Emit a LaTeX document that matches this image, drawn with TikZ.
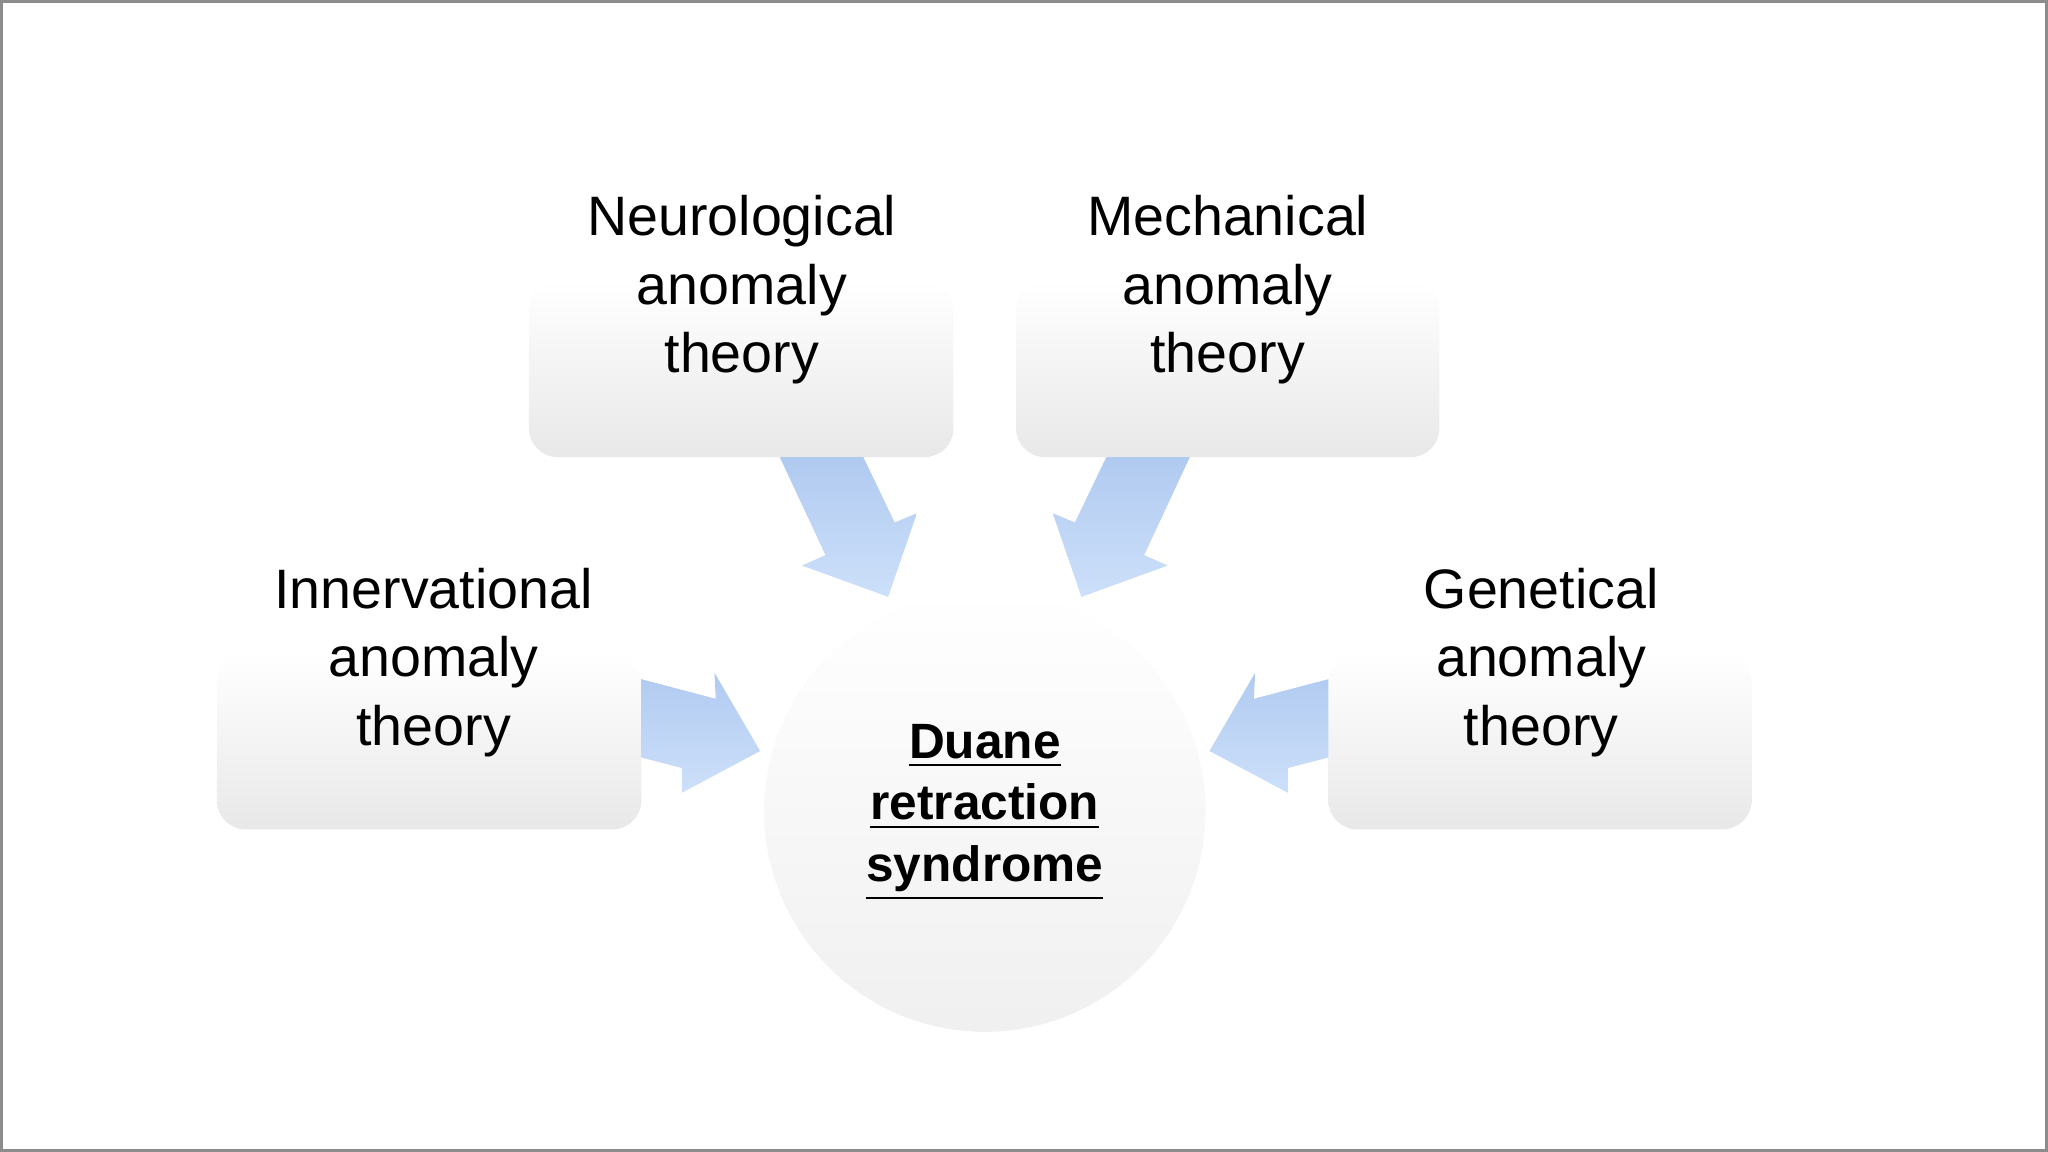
\documentclass[tikz,border=0pt]{standalone}
\usepackage{fontspec}
\setmainfont{Liberation Sans}
\definecolor{arA}{RGB}{176,202,240}
\definecolor{arB}{RGB}{205,224,250}
\begin{document}
\begin{tikzpicture}[x=0.01cm,y=-0.01cm,
  box/.style={rounded corners=0.22cm,top color=white,bottom color=black!9,draw=none},
  lbl/.style={align=center,font=\fontsize{12.1}{14.9}\selectfont,text=black},
  arr/.style={draw=none,top color=arA,bottom color=arB}]
\useasboundingbox (0,0) rectangle (1568,882);
\draw[black!45,line width=0.6pt] (1,1) rectangle (1567,881);
% boxes
\shade[box] (405,215) rectangle (730,350);
\shade[box] (778,215) rectangle (1102,350);
\shade[box] (166,500) rectangle (491,635);
\shade[box] (1017,500) rectangle (1341,635);
% circle
\shade[top color=white,bottom color=black!6,middle color=white!97!black] (754,621) circle (169);
% arrows
\shade[arr] (597,350)--(661,350)--(685,400)--(702,393)--(680,457)--(614,433)--(632,425)--cycle;
\shade[arr] (911,350)--(847,350)--(823,400)--(806,393)--(828,457)--(894,433)--(876,425)--cycle;
\shade[arr] (491,520)--(548,535)--(547,515)--(582,575)--(522,607)--(522,588)--(491,580)--cycle;
\shade[arr] (1017,520)--(960,535)--(961,515)--(926,575)--(986,607)--(986,588)--(1017,580)--cycle;
% texts
\node[lbl] (neu) at (568,222) {Neurological\\anomaly\\theory};
\node[lbl] (mec) at (940,222) {Mechanical\\anomaly\\theory};
\node[lbl] (inn) at (332,507) {Innervational\\anomaly\\theory};
\node[lbl] (gen) at (1180,507) {Genetical\\anomaly\\theory};
\node[align=center,font=\fontsize{10.8}{13.4}\selectfont\bfseries] (dua) at (754,622)
  {\underline{Duane}\\\underline{retraction}\\\underline{syndrome}};
\end{tikzpicture}
\end{document}
